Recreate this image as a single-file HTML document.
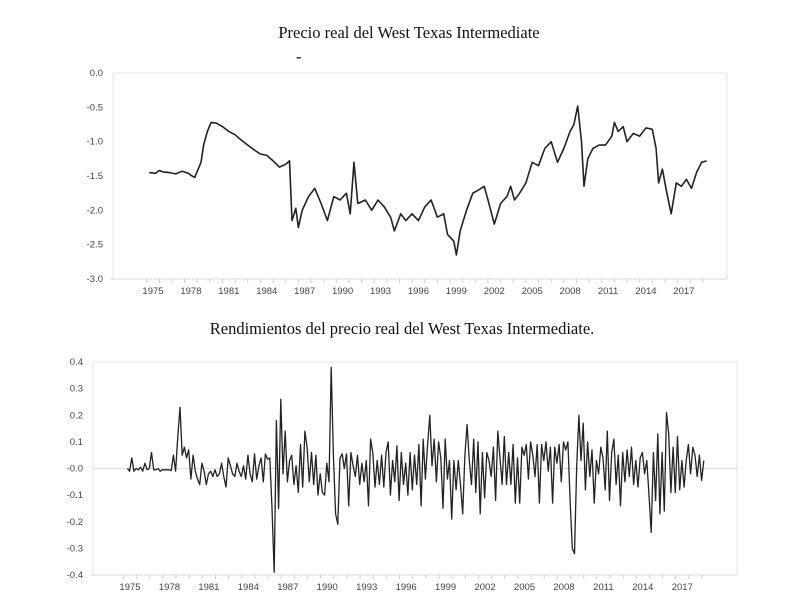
<!DOCTYPE html>
<html><head><meta charset="utf-8"><style>
body{margin:0;background:#fff;}
svg{display:block;}
.t{font-family:"Liberation Serif",serif;font-size:16.5px;fill:#111;}
.l{font-family:"Liberation Sans",sans-serif;font-size:9.5px;fill:#444;}
</style></head><body>
<svg id="c" width="803" height="608">
<text class="t" x="409" y="38" text-anchor="middle">Precio real del West Texas Intermediate</text>
<text class="t" x="296" y="62">-</text>
<text class="t" x="402" y="334" text-anchor="middle">Rendimientos del precio real del West Texas Intermediate.</text>
</svg>
<script>
const years=[];for(let y=1975;y<=2017;y+=3)years.push(y);
const topTicks=[0,-0.5,-1,-1.5,-2,-2.5,-3];
const topTickLabels=["0.0","-0.5","-1.0","-1.5","-2.0","-2.5","-3.0"];
const botTicks=[0.4,0.3,0.2,0.1,0,-0.1,-0.2,-0.3,-0.4];
const botTickLabels=["0.4","0.3","0.2","0.1","-0.0","-0.1","-0.2","-0.3","-0.4"];
const priceT=[1974.7,1975.2,1975.5,1975.8,1976.3,1976.8,1977.3,1977.8,1978.0,1978.3,1978.8,1979.0,1979.3,1979.6,1980.0,1980.5,1981.0,1981.5,1982.0,1982.5,1983.0,1983.5,1984.0,1984.5,1985.0,1985.5,1985.8,1986.0,1986.3,1986.5,1986.8,1987.3,1987.8,1988.3,1988.8,1989.3,1989.8,1990.3,1990.6,1990.9,1991.2,1991.8,1992.3,1992.8,1993.3,1993.8,1994.1,1994.6,1995.0,1995.5,1996.0,1996.5,1997.0,1997.5,1998.0,1998.3,1998.8,1999.0,1999.3,1999.8,2000.3,2000.8,2001.2,2001.5,2002.0,2002.5,2003.0,2003.3,2003.6,2004.0,2004.5,2005.0,2005.5,2006.0,2006.5,2007.0,2007.5,2008.0,2008.3,2008.6,2008.9,2009.1,2009.4,2009.8,2010.3,2010.8,2011.3,2011.5,2011.8,2012.2,2012.5,2013.0,2013.5,2014.0,2014.5,2014.8,2015.0,2015.3,2015.6,2016.0,2016.4,2016.8,2017.2,2017.6,2018.0,2018.4,2018.8];
const priceV=[-1.45,-1.46,-1.42,-1.44,-1.45,-1.47,-1.43,-1.46,-1.49,-1.52,-1.3,-1.05,-0.85,-0.72,-0.73,-0.78,-0.85,-0.9,-0.98,-1.05,-1.12,-1.18,-1.2,-1.28,-1.37,-1.33,-1.28,-2.15,-1.97,-2.25,-2.0,-1.8,-1.68,-1.9,-2.15,-1.8,-1.85,-1.75,-2.05,-1.3,-1.9,-1.85,-2.0,-1.85,-1.95,-2.1,-2.3,-2.05,-2.15,-2.05,-2.15,-1.95,-1.85,-2.1,-2.05,-2.35,-2.45,-2.65,-2.3,-2.0,-1.75,-1.7,-1.65,-1.85,-2.2,-1.9,-1.8,-1.65,-1.85,-1.75,-1.6,-1.3,-1.35,-1.1,-1.0,-1.3,-1.1,-0.85,-0.75,-0.48,-1.0,-1.65,-1.25,-1.1,-1.05,-1.05,-0.92,-0.72,-0.85,-0.78,-1.0,-0.88,-0.92,-0.8,-0.82,-1.1,-1.6,-1.4,-1.7,-2.05,-1.6,-1.65,-1.55,-1.68,-1.45,-1.3,-1.28];
const retStart=1974.8, retStep=1/6;
const retV=[0,-0.01,0.04,-0.01,0,-0.005,
0.005,-0.01,0.02,-0.005,0,0.06,
-0.005,-0.005,0,-0.01,-0.005,-0.005,
-0.005,-0.005,-0.008,0.05,-0.01,0.12,
0.23,0.05,0.08,0.04,0.07,-0.04,
0.05,-0.01,-0.04,-0.06,0.02,-0.01,
-0.06,-0.02,-0.01,-0.03,-0.005,-0.03,
-0.02,0.02,-0.03,-0.07,0.04,0.01,
-0.02,-0.03,0.02,-0.01,-0.03,0.01,
-0.04,0.05,-0.02,-0.05,0.055,-0.04,
0.01,0.04,-0.05,0.055,0.035,0.04,
-0.15,-0.39,0.18,-0.15,0.26,-0.02,
0.14,-0.05,0.03,0.05,-0.06,0.01,
-0.09,0.09,-0.07,0.14,0.08,-0.05,
0.06,-0.06,0.05,-0.1,-0.02,-0.09,
-0.1,0.02,-0.05,0.38,0.05,-0.17,
-0.21,0.04,0.055,0.0,0.055,-0.14,
0.06,0.01,-0.03,0.05,-0.06,0.02,
-0.05,0.03,-0.14,0.11,0.06,-0.07,
0.03,-0.06,0.05,-0.07,0.06,0.1,
-0.1,0.03,-0.05,0.085,-0.12,0.06,
-0.06,0.02,-0.1,0.06,-0.08,0.05,
-0.06,0.09,-0.14,0.11,-0.04,0.09,
0.2,0.01,0.11,-0.05,0.1,0.04,
-0.15,0.11,-0.04,0.03,-0.19,0.03,
-0.08,0.03,-0.06,-0.17,0.05,0.165,
0.03,-0.06,0.11,-0.09,0.1,-0.17,
0.06,-0.11,0.06,0.03,-0.03,0.08,
-0.12,0.14,0.04,-0.06,0.12,-0.06,
0.06,-0.06,0.09,-0.13,0.04,-0.13,
0.08,0.05,0.09,-0.04,0.1,0.05,
-0.03,0.09,-0.13,0.09,0.03,0.1,
-0.01,0.08,-0.13,0.08,0.02,0.09,
-0.05,0.1,0.07,0.1,-0.12,-0.3,
-0.32,0.01,0.2,0.03,0.17,-0.08,
0.1,-0.03,0.07,-0.13,0.03,-0.02,
0.08,0.04,-0.08,0.14,-0.12,0.06,
0.11,-0.06,0.05,-0.14,0.06,-0.05,
0.07,-0.03,0.08,-0.06,0.03,-0.07,
0.04,0.06,-0.02,0.03,-0.1,-0.24,
0.06,-0.12,0.13,-0.17,0.06,-0.16,
0.21,0.13,-0.09,0.08,-0.09,0.12,
-0.08,0.03,-0.07,0.03,0.09,-0.02,
0.08,0.05,-0.03,0.05,-0.045,0.03];

const NS="http://www.w3.org/2000/svg";
const svg=document.getElementById('c');
function mk(tag,attrs){const e=document.createElementNS(NS,tag);for(const k in attrs)e.setAttribute(k,attrs[k]);svg.appendChild(e);return e;}

function drawChart(cfg){
  const {L,R,T,B,vmax,vmin,x0,ppy,ticks,labels,pre,zeroLine}=cfg;
  const y=v=>T+(vmax-v)/(vmax-vmin)*(B-T);
  const x=t=>x0+(t-1975)*ppy;
  const box=mk('rect',{x:L,y:T,width:R-L,height:B-T,fill:'none',stroke:'#e6e6e6','stroke-width':1});
  
  
  const ax=mk('line',{x1:L-3,x2:R,y1:B,y2:B,stroke:'#d8d8d8','stroke-width':1});
  
  
  if(zeroLine){const z=mk('line',{x1:L,x2:R,y1:y(0),y2:y(0),stroke:'#dcdcdc','stroke-width':1});
    
    }
  ticks.forEach((v,i)=>{const tx=mk('text',{x:L-10,y:y(v)+3,'text-anchor':'end',class:'l'});tx.textContent=labels[i];
    
    });
  for(let yr=1975;yr<=2019;yr++){const tk=mk('line',{x1:x(yr-0.5),x2:x(yr-0.5),y1:B,y2:B+4,stroke:'#d0d0d0'});
    
    }
  years.forEach(yr=>{const tx=mk('text',{x:x(yr),y:B+15,'text-anchor':'middle',class:'l'});tx.textContent=yr;
    
    });
  return {x,y};
}
const a=drawChart({L:113,R:727,T:73,B:279,vmax:0,vmin:-3,x0:153,ppy:12.64,ticks:topTicks,labels:topTickLabels,pre:'price',zeroLine:false});
let d='';priceT.forEach((t,i)=>{d+=(i?'L':'M')+a.x(t).toFixed(1)+' '+a.y(priceV[i]).toFixed(1);});
const p1=mk('path',{d:d,fill:'none',stroke:'#222','stroke-width':1.6,'stroke-linejoin':'round'});



const b=drawChart({L:93,R:737,T:362,B:575,vmax:0.4,vmin:-0.4,x0:130,ppy:13.15,ticks:botTicks,labels:botTickLabels,pre:'returns',zeroLine:true});
let d2='';retV.forEach((v,i)=>{d2+=(i?'L':'M')+b.x(retStart+i*retStep).toFixed(1)+' '+b.y(v).toFixed(1);});
const p2=mk('path',{d:d2,fill:'none',stroke:'#222','stroke-width':1.3,'stroke-linejoin':'round'});


</script>
</body></html>
